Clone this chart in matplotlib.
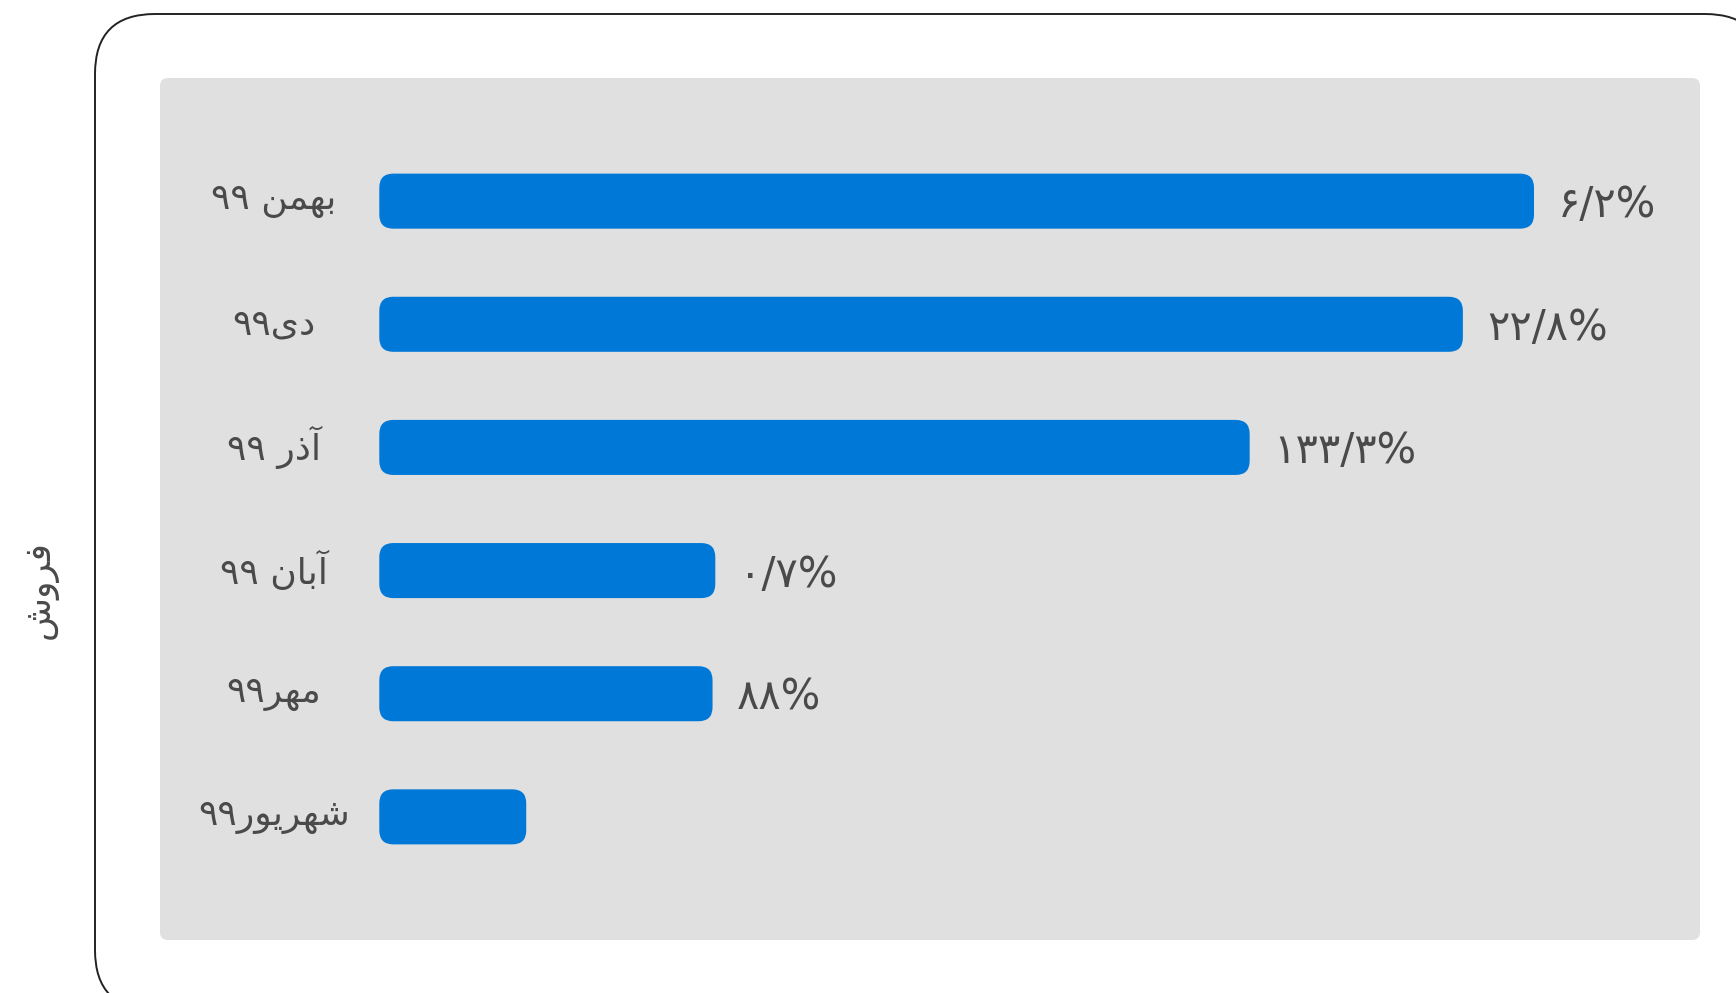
import re
import matplotlib
matplotlib.use("Agg")
import matplotlib.pyplot as plt
from matplotlib.patches import FancyBboxPatch

plt.rcParams['font.family'] = ['DejaVu Sans']

# data (top to bottom)
months = ['بهمن ۹۹', 'دی۹۹', 'آذر ۹۹', 'آبان ۹۹', 'مهر۹۹', 'شهریور۹۹']
sales = [576, 542.4, 441.7, 189.3, 188, 100]
growth = ['۶/۲%', '۲۲/۸%', '۱۳۳/۳%', '۰/۷%', '۸۸%', '']
ylabel = 'فروش'
xmin, xmax = 30.6, 654.4

BLUE = '#0078d7'
GRAY = '#e0e0e0'
TXT = '#4a4a4a'

# hand made arabic shaping (no reshaper available)
FORMS = {
    'ا': ('\uFE8D', '\uFE8E', None, None),
    'آ': ('\uFE81', '\uFE82', None, None),
    'ب': ('\uFE8F', '\uFE90', '\uFE91', '\uFE92'),
    'د': ('\uFEA9', '\uFEAA', None, None),
    'ذ': ('\uFEAB', '\uFEAC', None, None),
    'ر': ('\uFEAD', '\uFEAE', None, None),
    'ش': ('\uFEB5', '\uFEB6', '\uFEB7', '\uFEB8'),
    'ف': ('\uFED1', '\uFED2', '\uFED3', '\uFED4'),
    'م': ('\uFEE1', '\uFEE2', '\uFEE3', '\uFEE4'),
    'ن': ('\uFEE5', '\uFEE6', '\uFEE7', '\uFEE8'),
    'ه': ('\uFEE9', '\uFEEA', '\uFEEB', '\uFEEC'),
    'و': ('\uFEED', '\uFEEE', None, None),
    'ی': ('\uFEEF', '\uFEF0', '\uFEF3', '\uFEF4'),
}


def shape_word(w):
    out = []
    for i, c in enumerate(w):
        if c not in FORMS:
            out.append(c)
            continue
        prev = i > 0 and w[i - 1] in FORMS and FORMS[w[i - 1]][2] is not None
        nxt = i < len(w) - 1 and w[i + 1] in FORMS and FORMS[c][2] is not None
        f = FORMS[c]
        if prev and nxt:
            out.append(f[3])
        elif prev:
            out.append(f[1])
        elif nxt:
            out.append(f[2])
        else:
            out.append(f[0])
    return ''.join(reversed(out))


def rtl(s):
    letters = '\u0621-\u064A\u067E-\u06D3\u06CC'
    runs = re.findall('[%s]+|\\s+|[^%s\\s]+' % (letters, letters), s)
    res = []
    for r in reversed(runs):
        if r[0] in FORMS:
            res.append(shape_word(r))
        else:
            res.append(r)
    return ''.join(res)


W, H = 1736, 993
fig = plt.figure(figsize=(W / 100, H / 100), dpi=100)

# background layer in pixel coords
bg = fig.add_axes([0, 0, 1, 1])
bg.set_xlim(0, W)
bg.set_ylim(H, 0)
bg.axis('off')
bg.add_patch(FancyBboxPatch((95, 14), 1670, 996, boxstyle='round,pad=0,rounding_size=60',
                            fc='white', ec='#222222', lw=1.4))
bg.add_patch(FancyBboxPatch((160, 78), 1540, 862, boxstyle='round,pad=0,rounding_size=8',
                            fc=GRAY, ec='none'))
bg.text(41, 590, rtl(ylabel), rotation=90, ha='center', va='center', fontsize=26, color=TXT)

# bar axes
left_px, right_px, top_px, bot_px = 379.3, 1700, 78, 940
ax = fig.add_axes([left_px / W, (H - bot_px) / H, (right_px - left_px) / W, (bot_px - top_px) / H])
ax.patch.set_alpha(0)
ax.set_xlim(xmin, xmax)
ax.set_ylim(6.0, -1.0)
ax.axis('off')

xu = (xmax - xmin) / (right_px - left_px)  # x units per px
yu = 7.0 / (bot_px - top_px)
bh = 0.447
for i, v in enumerate(sales):
    ax.add_patch(FancyBboxPatch((xmin, i - bh / 2), v - xmin, bh,
                                boxstyle='round,pad=0,rounding_size=%f' % (14 * xu),
                                mutation_aspect=yu / xu, fc=BLUE, ec='none'))
    ax.text(v + 24 * xu, i + 4 * yu, growth[i], ha='left', va='center', fontsize=30, color=TXT)
    ax.text((274 - left_px) / (right_px - left_px), i, rtl(months[i]), transform=ax.get_yaxis_transform(),
            ha='center', va='center', fontsize=26, color=TXT)

fig.savefig('out.png', dpi=100)
